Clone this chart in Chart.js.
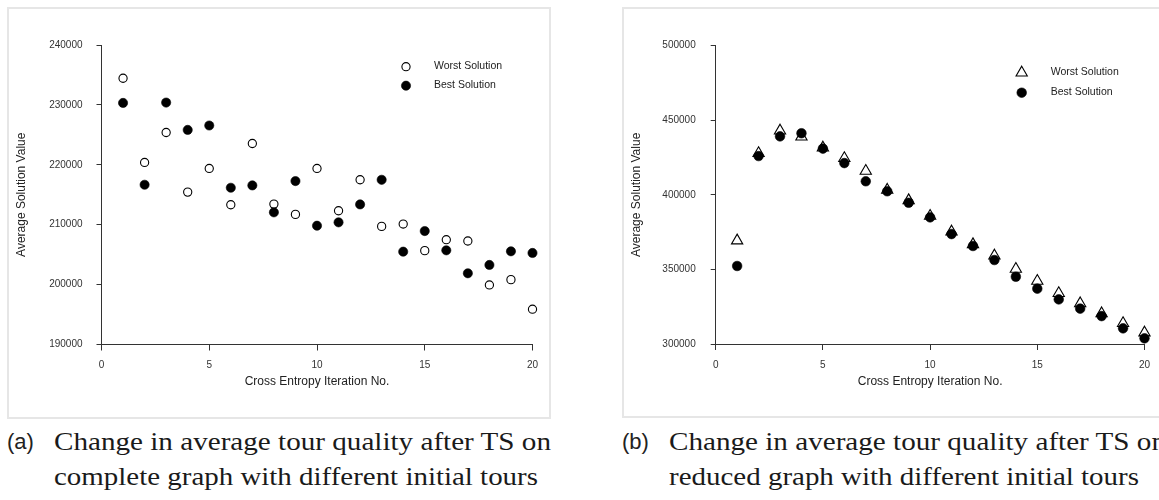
<!DOCTYPE html>
<html><head><meta charset="utf-8">
<script src="https://cdn.jsdelivr.net/npm/chart.js@4.4.1/dist/chart.umd.min.js"></script>
<style>
html,body{margin:0;padding:0;background:#fff;}
body{width:1159px;height:500px;overflow:hidden;position:relative;}
.panel{position:absolute;border:2px solid #e6e6e6;box-sizing:border-box;}
canvas{position:absolute;}
.cap{position:absolute;font-family:"Liberation Serif",serif;font-size:25px;line-height:26px;color:#1a1a1a;white-space:nowrap;transform-origin:0 0;}
.lab{position:absolute;font-family:"Liberation Sans",sans-serif;font-size:22px;line-height:26px;color:#222;}
</style></head><body>
<div class="panel" style="left:7px;top:7px;width:544px;height:412px"></div>
<div class="panel" style="left:622px;top:7px;width:544px;height:411px"></div>
<canvas id="c1" width="542" height="410" style="left:8px;top:8px"></canvas>
<canvas id="c2" width="544" height="410" style="left:623px;top:8px"></canvas>
<div class="lab" style="left:7px;top:429px">(a)</div>
<div class="cap" data-w="497" style="left:54px;top:429px">Change in average tour quality after TS on</div>
<div class="cap" data-w="484" style="left:54px;top:464px">complete graph with different initial tours</div>
<div class="lab" style="left:622px;top:429px">(b)</div>
<div class="cap" data-w="497" style="left:669px;top:429px">Change in average tour quality after TS on</div>
<div class="cap" data-w="470" style="left:669px;top:464px">reduced graph with different initial tours</div>
<script>
const FONT = '"Liberation Sans", Arial, sans-serif';
const iterations = [1,2,3,4,5,6,7,8,9,10,11,12,13,14,15,16,17,18,19,20];
const xTicks = [0,5,10,15,20];
const yTicksA = [190000,200000,210000,220000,230000,240000];
const yTicksB = [300000,350000,400000,450000,500000];
const seriesLabels = ['Worst Solution','Best Solution'];
const xTitle = 'Cross Entropy Iteration No.';
const yTitle = 'Average Solution Value';
// (a) complete graph
const worstA = [234450,220390,225390,215440,219390,213330,223560,213440,211720,219390,212330,217500,209720,210110,205670,207500,207280,199940,200830,195890];
const bestA  = [230330,216670,230390,225830,226560,216170,216560,212060,217280,209830,210390,213390,217500,205500,208940,205720,201890,203280,205560,205280];
// (b) reduced graph
const worstB = [369300,427900,443000,439000,431600,424500,416000,403300,396300,385800,375300,366800,359200,350300,342200,334000,327200,320500,313900,307600];
const bestB  = [352300,426000,439200,441300,431000,421300,409100,402400,394700,384900,373700,365700,356300,345100,337100,329900,323700,318700,310500,303800];

const insetLegend = {
  id: 'insetLegend',
  afterDraw(chart, args, o) {
    const ctx = chart.ctx;
    ctx.save();
    o.order.forEach((di, k) => {
      const ds = chart.data.datasets[di];
      const y = o.y + k * o.gap;
      ctx.fillStyle = ds.pointBackgroundColor;
      ctx.strokeStyle = ds.pointBorderColor;
      ctx.lineWidth = ds.pointBorderWidth;
      Chart.helpers.drawPoint(ctx, {pointStyle: ds.pointStyle, radius: ds.pointRadius, borderWidth: ds.pointBorderWidth, rotation: 0}, o.x, y);
      ctx.fillStyle = '#222';
      ctx.font = '10.5px ' + FONT;
      ctx.textBaseline = 'middle';
      ctx.textAlign = 'left';
      ctx.fillText(ds.label, o.textX, y - 1);
    });
    ctx.restore();
  }
};

function build(id, worst, best, yTicks, worstStyle, g) {
  const pts = arr => iterations.map((x, i) => ({x: x, y: arr[i]}));
  const datasets = [
    {label: seriesLabels[1], data: pts(best), showLine: false, clip: false, pointStyle: 'circle',
     pointRadius: g.bestR, pointBackgroundColor: '#000', pointBorderColor: '#000', pointBorderWidth: 0.6},
    {label: seriesLabels[0], data: pts(worst), showLine: false, clip: false, pointStyle: worstStyle,
     pointRadius: g.worstR, pointBackgroundColor: '#fff', pointBorderColor: '#000', pointBorderWidth: 1.1}
  ];
  new Chart(document.getElementById(id), {
    type: 'scatter',
    data: {datasets},
    plugins: [insetLegend],
    options: {
      responsive: false, animation: false, events: [],
      layout: {padding: {left: 0, top: g.padTop, right: g.padRight, bottom: 0}},
      plugins: {legend: {display: false}, tooltip: {enabled: false},
        insetLegend: {order: [1, 0], x: g.legX, y: g.legY, gap: g.legGap, textX: g.legTextX}},
      scales: {
        x: {type: 'linear', min: xTicks[0], max: xTicks[xTicks.length - 1],
          afterBuildTicks: s => { s.ticks = xTicks.map(v => ({value: v})); },
          afterFit: s => { s.height = g.xAxisH; },
          ticks: {padding: 9, color: '#333', font: {family: FONT, size: 10}, maxRotation: 0, callback: v => String(v)},
          grid: {display: true, drawOnChartArea: false, drawTicks: true, tickLength: 6, color: '#333', lineWidth: 1},
          border: {display: true, color: '#333', width: 1},
          title: {display: true, text: xTitle, color: '#222', font: {family: FONT, size: 12}, padding: {top: 0, bottom: 29.5}}
        },
        y: {type: 'linear', min: yTicks[0], max: yTicks[yTicks.length - 1],
          afterBuildTicks: s => { s.ticks = yTicks.map(v => ({value: v})); },
          afterFit: s => { s.width = g.yAxisW; },
          ticks: {padding: g.yLabPad, color: '#333', font: {family: FONT, size: 10}, callback: v => String(v)},
          grid: {display: true, drawOnChartArea: false, drawTicks: true, tickLength: 5, color: '#333', lineWidth: 1},
          border: {display: true, color: '#333', width: 1},
          title: {display: true, text: yTitle, color: '#222', font: {family: FONT, size: 12}, padding: {top: 6, bottom: 0}}
        }
      }
    }
  });
}

build('c1', worstA, bestA, yTicksA, 'circle',
  {padTop: 37, padRight: 17.5, yAxisW: 93.5, xAxisH: 73.5, yLabPad: 14, bestR: 4.6, worstR: 4.1,
   legX: 398, legY: 58.7, legGap: 19, legTextX: 426});
build('c2', worstB, bestB, yTicksB, 'triangle',
  {padTop: 37.7, padRight: 22.5, yAxisW: 92.7, xAxisH: 74, yLabPad: 15, bestR: 4.8, worstR: 6.5,
   legX: 398.7, legY: 64.7, legGap: 20, legTextX: 427.7});

function fitCaptions() {
  document.querySelectorAll('.cap').forEach(el => {
    el.style.transform = 'none';
    const w = el.getBoundingClientRect().width;
    const t = parseFloat(el.dataset.w);
    el.style.transform = 'scaleX(' + (t / w) + ')';
  });
}
fitCaptions();
if (document.fonts && document.fonts.ready) document.fonts.ready.then(fitCaptions);
</script>
</body></html>
